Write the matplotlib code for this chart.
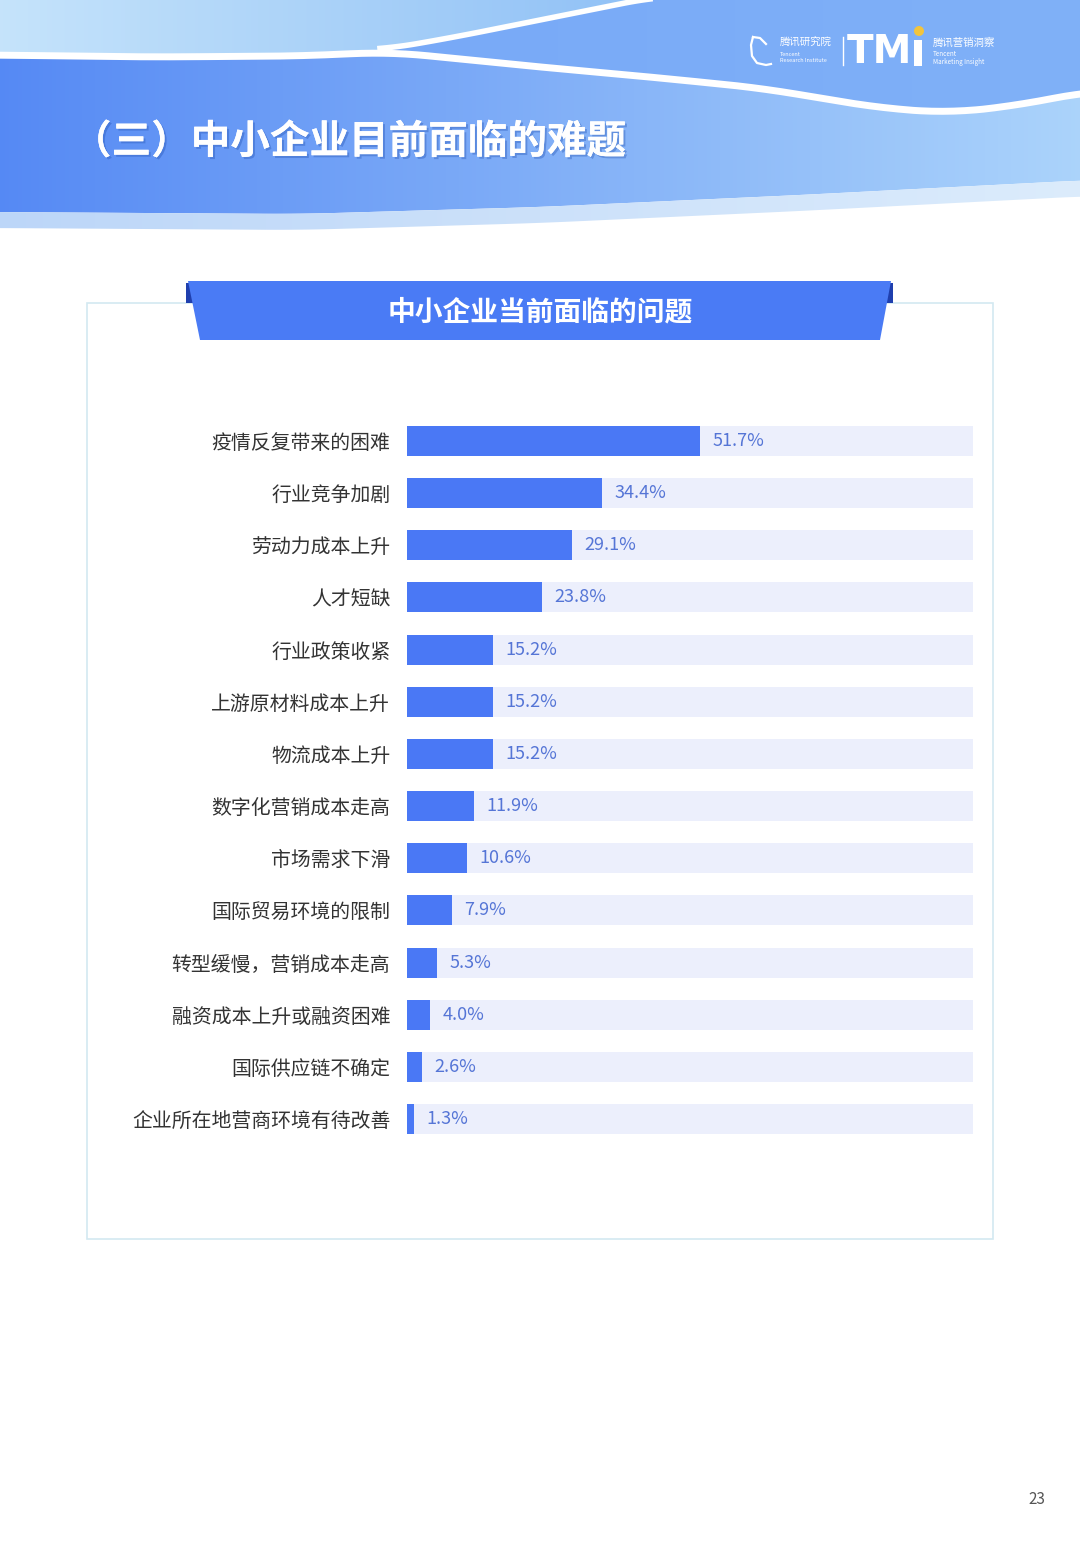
import numpy as np
import matplotlib
matplotlib.use("Agg")
import matplotlib.pyplot as plt
from matplotlib.patches import Polygon, Rectangle, Circle
from matplotlib.colors import LinearSegmentedColormap
import matplotlib.patheffects as pe

plt.rcParams['font.family'] = ['Noto Sans CJK SC', 'DejaVu Sans']

# data
labels = ['疫情反复带来的困难', '行业竞争加剧', '劳动力成本上升', '人才短缺', '行业政策收紧',
          '上游原材料成本上升', '物流成本上升', '数字化营销成本走高', '市场需求下滑',
          '国际贸易环境的限制', '转型缓慢，营销成本走高', '融资成本上升或融资困难',
          '国际供应链不确定', '企业所在地营商环境有待改善']
values = [51.7, 34.4, 29.1, 23.8, 15.2, 15.2, 15.2, 11.9, 10.6, 7.9, 5.3, 4.0, 2.6, 1.3]
page_title = '（三）中小企业目前面临的难题'
chart_title = '中小企业当前面临的问题'
page_no = '23'

W, H = 1080, 1560
fig = plt.figure(figsize=(W / 100, H / 100), dpi=100)
bg = fig.add_axes([0, 0, 1, 1])
bg.set_xlim(0, W)
bg.set_ylim(H, 0)
bg.axis('off')


def grad_fill(ax, verts, c0, c1, z=1):
    # horizontal gradient clipped to polygon
    poly = Polygon(verts, closed=True, facecolor='none', edgecolor='none')
    ax.add_patch(poly)
    cmap = LinearSegmentedColormap.from_list('g', [c0, c1])
    xs = np.array(verts)[:, 0]
    ys = np.array(verts)[:, 1]
    img = ax.imshow(np.linspace(0, 1, 256).reshape(1, -1), cmap=cmap, aspect='auto',
                    extent=(xs.min(), xs.max(), ys.max(), ys.min()), zorder=z,
                    interpolation='bicubic')
    img.set_clip_path(poly)


def wave(pts, n=300):
    # smooth curve through control points, y as a function of x
    pts = np.array(pts, dtype=float)
    x = np.linspace(pts[0, 0], pts[-1, 0], n)
    y = np.interp(x, pts[:, 0], pts[:, 1])
    k = np.ones(21) / 21
    y = np.convolve(np.pad(y, 10, mode='edge'), k, mode='valid')
    return np.column_stack([x, y])


def pts(a):
    return [tuple(p) for p in a]


# ---- header decoration
lower_line = wave([(-10, 55), (150, 57), (300, 56), (390, 52), (540, 67), (650, 77),
                   (760, 88), (880, 108), (950, 113), (1020, 105), (1090, 91)])
upper_line = wave([(380, 50), (450, 38), (540, 20), (600, 8), (660, -4)], 80)
band_bottom = wave([(-10, 212), (300, 214), (540, 207), (800, 195), (1090, 180)])
stripe_bottom = band_bottom + np.array([0, 16])
left_part = lower_line[lower_line[:, 0] <= 385]
right_part = lower_line[lower_line[:, 0] >= 380]

# light top-left area
grad_fill(bg, [(-10, -10), (660, -10)] + pts(upper_line[::-1]) + pts(left_part[::-1]),
          '#c6e4fb', '#8fc0f6', z=1)

# medium blue area (logo)
grad_fill(bg, [(660, -10), (1090, -10)] + pts(right_part[::-1]) + pts(upper_line),
          '#78a9f7', '#80b1f8', z=1)

# main band
grad_fill(bg, pts(lower_line) + pts(band_bottom[::-1]), '#5589f4', '#acd4fb', z=1)

# lighter stripe under band
grad_fill(bg, pts(band_bottom) + pts(stripe_bottom[::-1]), '#bcd6f8', '#dcecfc', z=1)

# white wave lines
bg.plot(lower_line[:, 0], lower_line[:, 1], color='white', lw=5, zorder=2)
bg.plot(upper_line[:, 0], upper_line[:, 1], color='white', lw=4, zorder=2)

# page title
bg.text(72, 142, page_title, color='white', fontsize=28.5, fontweight='bold',
        va='center', ha='left', zorder=5,
        path_effects=[pe.withSimplePatchShadow(offset=(1.5, -1.5), alpha=0.35,
                                               shadow_rgbFace='#1f4fb0'), pe.Normal()])

# logo
bg.plot([753, 751, 752, 757, 766, 771], [37, 45, 56, 63, 65, 64], color='white', lw=1.6, zorder=5)
bg.plot([753, 760, 766], [37, 38, 44], color='white', lw=1.6, zorder=5)
bg.text(780, 43, '腾讯研究院', color='white', fontsize=7.5, va='center', zorder=5)
bg.text(780, 54, 'Tencent', color='white', fontsize=4, va='center', zorder=5)
bg.text(780, 61, 'Research Institute', color='white', fontsize=4, va='center', zorder=5)
bg.plot([843, 843], [37, 65], color='white', lw=1, zorder=5)
bg.text(847, 52, 'TM', color='white', fontsize=28, fontweight='heavy', va='center',
        family='DejaVu Sans', zorder=5)
bg.add_patch(Rectangle((914, 40), 8, 26, facecolor='white', edgecolor='none', zorder=5))
bg.add_patch(Circle((919, 31), 5, facecolor='#f2c43d', edgecolor='none', zorder=5))
bg.text(933, 43, '腾讯营销洞察', color='white', fontsize=7.5, va='center', zorder=5)
bg.text(933, 54, 'Tencent', color='white', fontsize=4.5, va='center', zorder=5)
bg.text(933, 62, 'Marketing Insight', color='white', fontsize=4.5, va='center', zorder=5)

# ---- chart panel
bg.add_patch(Rectangle((87, 303), 906, 936, facecolor='white', edgecolor='#d3e9f1',
                       lw=1.2, zorder=2))
bg.add_patch(Polygon([(186, 283), (193, 283), (197, 303), (186, 303)], closed=True,
                     facecolor='#1f3fae', edgecolor='none', zorder=3))
bg.add_patch(Polygon([(893, 283), (886, 283), (882, 303), (893, 303)], closed=True,
                     facecolor='#1f3fae', edgecolor='none', zorder=3))
bg.add_patch(Polygon([(188, 281), (891, 281), (880, 340), (200, 340)], closed=True,
                     facecolor='#4a7bf5', edgecolor='none', zorder=4))
bg.text(540, 312, chart_title, color='white', fontsize=20, fontweight='bold',
        ha='center', va='center', zorder=5)

bg.text(1037, 1500, page_no, color='#555555', fontsize=11, ha='center', va='center')

# ---- bar chart
row = 52.15
top_px = 441 - row / 2
bot_px = 1119 + row / 2
ax = fig.add_axes([407 / W, 1 - bot_px / H, 566 / W, (bot_px - top_px) / H])
ax.patch.set_alpha(0)
y = np.arange(len(labels))
ax.barh(y, [100] * len(labels), height=0.575, color='#eceffc', zorder=1)
ax.barh(y, values, height=0.575, color='#4a78f5', zorder=2)
for yi, v in zip(y, values):
    ax.annotate(f'{v:.1f}%', (v, yi), xytext=(9, 0), textcoords='offset points',
                va='center', ha='left', fontsize=13, color='#5575d6', zorder=3)
ax.set_xlim(0, 100)
ax.set_ylim(len(labels) - 0.5, -0.5)
ax.set_yticks(y)
ax.set_yticklabels(labels, fontsize=14.3, color='#333333', fontweight='medium')
ax.tick_params(axis='y', length=0, pad=12)
ax.set_xticks([])
for s in ax.spines.values():
    s.set_visible(False)

fig.savefig('out.png', dpi=100)
